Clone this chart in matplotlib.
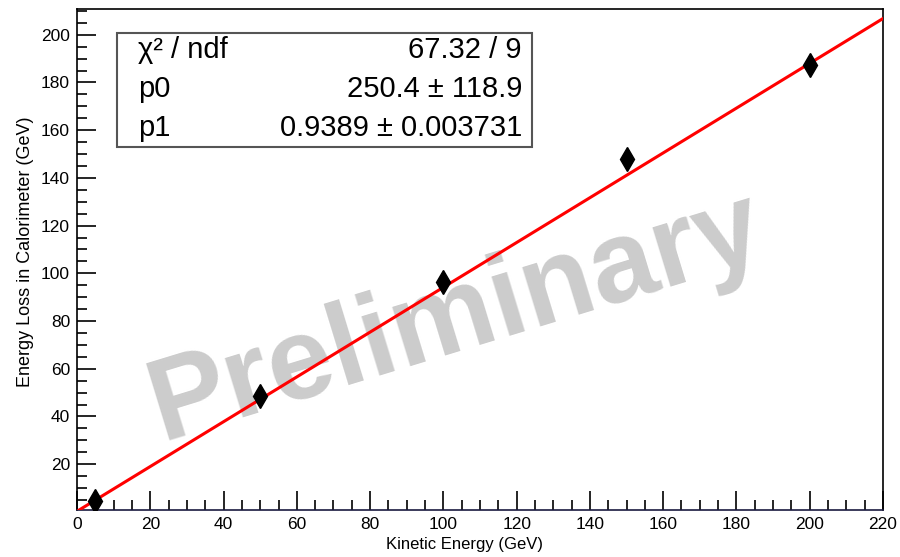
import numpy as np
import matplotlib.pyplot as plt
from matplotlib.ticker import MultipleLocator

plt.rcParams['font.family'] = ['Liberation Sans', 'DejaVu Sans']

# beam energy vs. energy deposited in the calorimeter
kinetic = [5, 50, 100, 150, 200]
eloss = [4.5, 48.5, 96.5, 148.0, 187.5]

# linear fit results (p0 quoted in MeV)
chi2, ndf = 67.32, 9
p0, p0_err = 250.4, 118.9
p1, p1_err = 0.9389, 0.003731

W, H = 900, 557
fig = plt.figure(figsize=(W / 100, H / 100), dpi=100)
ax = fig.add_axes([77 / W, 1 - 510 / H, 806 / W, 501 / H])

ax.set_xlim(0, 220)
ax.set_ylim(0.8, 210.8)

xf = np.array([0, 220])
ax.plot(xf, p1 * xf + p0 / 1000., color='#ff0000', lw=2.2, zorder=3)
ax.plot(kinetic, eloss, ls='none', marker='d', ms=12, color='black',
        zorder=4)

ax.text(456, H - 318, 'Preliminary', transform=None, fontsize=84,
        fontweight='bold', color='#cccccc', rotation=17,
        ha='center', va='center', zorder=1)

# ROOT style axes: ticks only on the bottom/left, pointing inwards
ax.xaxis.set_major_locator(MultipleLocator(20))
ax.xaxis.set_minor_locator(MultipleLocator(5))
ax.yaxis.set_major_locator(MultipleLocator(20))
ax.yaxis.set_minor_locator(MultipleLocator(5))
ax.tick_params(which='both', direction='in', top=False, right=False,
               labelsize=12.5, width=1.2)
ax.tick_params(which='major', length=14, pad=5)
ax.tick_params(which='minor', length=7)
ax.set_yticks([20, 40, 60, 80, 100, 120, 140, 160, 180, 200])
for s in ax.spines.values():
    s.set_linewidth(1.2)
ax.spines['bottom'].set_color('#1a1a40')

ax.set_xlabel('Kinetic Energy (GeV)', fontsize=12, labelpad=4, x=0.481)
ax.set_ylabel('Energy Loss in Calorimeter (GeV)', fontsize=13, labelpad=5,
              y=0.515)

# fit statistics box
box = plt.Rectangle((117, H - 147), 415, 114, transform=None, fill=True,
                    facecolor='white', edgecolor='#555555', lw=1.5, zorder=5)
fig.patches.append(box)
rows = [('χ² / ndf', f'{chi2:.2f} / {ndf}'),
        ('p0', f'{p0} ± {p0_err}'),
        ('p1', f'{p1} ± {p1_err}')]
for i, (lab, val) in enumerate(rows):
    y = H - 50 - i * 39
    fig.text(138 / W, y / H, lab, fontsize=21, va='center', ha='left',
             zorder=6)
    fig.text(522 / W, y / H, val, fontsize=21, va='center', ha='right',
             zorder=6)

fig.savefig('out.png', dpi=100)
